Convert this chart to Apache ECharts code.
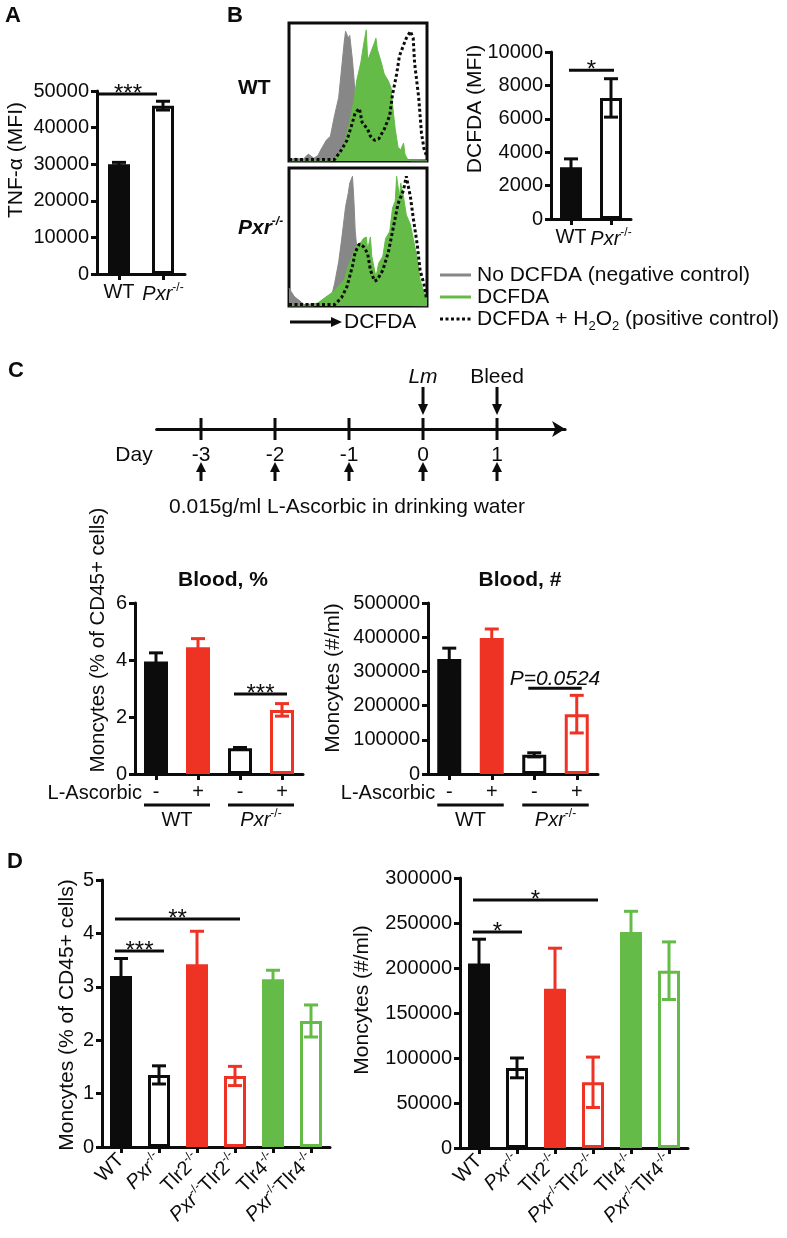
<!DOCTYPE html>
<html><head><meta charset="utf-8">
<script src="https://cdn.jsdelivr.net/npm/echarts@6/dist/echarts.min.js"></script>
<style>html,body{margin:0;padding:0;background:#fff}#c{width:787px;height:1238px}</style>
</head><body><div id="c"></div>
<script>
// ---------------- DATA ----------------
// Panel A
const aCategories = ['WT', 'Pxr'];
const aLabels = ['WT', '{i|Pxr}{s|-/-}'];
const aMeans = [30000, 46000];
const aErrors = [500, 1200];
const aAxis = [0, 50000, 10000];
const aSig = [[0, 1, 49200]];
const aSigText = ['***'];

// Panel B bar
const bCategories = ['WT', 'Pxr'];
const bLabels = ['WT', '{i|Pxr}{s|-/-}'];
const bMeans = [3100, 7250];
const bErrors = [500, 1150];
const bAxis = [0, 10000, 2000];
const bSig = [[0, 1, 8900]];
const bSigText = ['*'];

// Panel B histograms: [fluorescence (% of range), count (% of max)]
const histWtNeg = [[0,1],[5,2],[10,1],[14,5],[18,2],[21,4],[23,8],[27,15],[30,18],[33,33],[36,46],[38,66],[40,86],[41,94],[43,89],[44,91],[46,73],[47,61],[48,46],[51,30],[53,15],[56,5],[60,1],[100,0]];
const histWtDcf = [[0,0],[30,0],[33,2],[37,5],[40,12],[44,28],[47,43],[49,58],[52,71],[54,84],[56,95],[57,73],[59,78],[62,86],[63,89],[64,81],[67,71],[69,63],[72,58],[74,53],[75,41],[77,23],[79,10],[81,8],[83,13],[84,5],[86,1],[88,0],[100,0]];
const histWtPos = [[0,1],[20,1],[33,1],[38,8],[42,15],[46,28],[48,35],[51,38],[53,28],[54,28],[57,23],[59,18],[62,15],[65,16],[69,23],[73,33],[75,48],[78,63],[80,76],[83,84],[85,89],[88,94],[90,89],[91,71],[94,46],[96,20],[98,8],[100,3]];
const histKoNeg = [[0,13],[1.2,11],[3.7,7],[6.2,5],[11,1],[21,2],[26,5],[31,8],[33,16],[36,32],[38,47],[41,72],[43,82],[44,89],[46,94],[47,77],[48,54],[49,44],[51,30],[53,15],[56,5],[60,1],[100,0]];
const histKoDcf = [[0,0],[18,0],[26,6],[33,11],[40,19],[43,29],[47,39],[49,44],[52,46],[54,49],[56,50],[57,41],[59,50],[60,36],[63,21],[65,31],[68,36],[70,49],[73,54],[75,71],[77,76],[78,94],[80,79],[81,89],[83,79],[85,66],[88,59],[90,49],[93,34],[95,19],[98,9],[100,5]];
const histKoPos = [[0,1],[20,1],[33,1],[38,6],[42,14],[46,29],[48,39],[51,45],[54,43],[57,38],[59,26],[62,18],[64,19],[68,26],[72,39],[75,54],[79,74],[83,84],[85,94],[88,79],[90,64],[93,44],[95,26],[98,15],[99.5,6]];

// Panel C timeline
const timelineDays = [-3, -2, -1, 0, 1];
const timelineDayLabels = ['-3', '-2', '-1', '0', '1'];
const eventDays = [0, 1];
const eventLabels = ['Lm', 'Bleed'];

// Panel C bars
const cCategories = ['WT -', 'WT +', 'Pxr -', 'Pxr +'];
const cLabels = ['-', '+', '-', '+'];
const cGroups = [[0, 1], [2, 3]];
const cGroupLabels = ['WT', '{i|Pxr}{s|-/-}'];
const cPctMeans = [3.95, 4.45, 0.9, 2.25];
const cPctErrors = [0.3, 0.3, 0.03, 0.22];
const cPctAxis = [0, 6, 2];
const cPctSig = [[2, 3, 2.81]];
const cPctSigText = ['***'];
const cNumMeans = [336000, 398000, 56000, 175000];
const cNumErrors = [32000, 26000, 6000, 55000];
const cNumAxis = [0, 500000, 100000];
const cNumSig = [[2, 3, 251000]];
const cNumSigText = ['P=0.0524'];

// Panel D bars
const dCategories = ['WT', 'Pxr', 'Tlr2', 'PxrTlr2', 'Tlr4', 'PxrTlr4'];
const dLabels = ['WT', '{i|Pxr}{s|-/-}', '{n|Tlr2}{s|-/-}', '{i|Pxr}{s|-/-}{n|Tlr2}{s|-/-}', '{n|Tlr4}{s|-/-}', '{i|Pxr}{s|-/-}{n|Tlr4}{s|-/-}'];
const dPctMeans = [3.2, 1.35, 3.42, 1.33, 3.14, 2.36];
const dPctErrors = [0.33, 0.17, 0.62, 0.18, 0.17, 0.3];
const dPctAxis = [0, 5, 1];
const dPctSig = [[0, 3, 4.27], [0, 1, 3.67]];
const dPctSigText = ['**', '***'];
const dNumMeans = [205000, 89000, 177000, 73000, 240000, 197000];
const dNumErrors = [27000, 11000, 45000, 28000, 23000, 32000];
const dNumAxis = [0, 300000, 50000];
const dNumSig = [[0, 3, 275600], [0, 1, 240000]];
const dNumSigText = ['*', '*'];

// ---------------- STYLE ----------------
const FONT = '"Liberation Sans", Arial, Helvetica, sans-serif';
const BLACK = '#0c0c0c', RED = '#ee3325', GREEN = '#64bb47', GRAY = '#878787';
const abColors = [BLACK, BLACK], abOpen = [false, true];
const cColors = [BLACK, RED, BLACK, RED], cOpen = [false, false, true, true];
const dColors = [BLACK, BLACK, RED, RED, GREEN, GREEN], dOpen = [false, true, false, true, false, true];

const RICH = {
  i: {fontStyle: 'italic', fontSize: 20, fontFamily: FONT, color: BLACK},
  n: {fontSize: 20, fontFamily: FONT, color: BLACK},
  s: {fontSize: 12, fontFamily: FONT, color: BLACK, verticalAlign: 'top', lineHeight: 24},
  sub: {fontSize: 13, fontFamily: FONT, color: BLACK, verticalAlign: 'bottom', lineHeight: 26}
};

const grids = [
  {left: 97, top: 91, width: 88, height: 183},          // 0 A
  {left: 551, top: 52, width: 80, height: 167},         // 1 B bar
  {left: 289, top: 23, width: 138, height: 138, show: true, borderColor: BLACK, borderWidth: 3}, // 2 hist WT
  {left: 289, top: 168, width: 138, height: 138, show: true, borderColor: BLACK, borderWidth: 3}, // 3 hist KO
  {left: 156.6, top: 370, width: 408.5, height: 59},    // 4 timeline
  {left: 135, top: 603, width: 168, height: 171},       // 5 C %
  {left: 428, top: 603, width: 170, height: 171},       // 6 C #
  {left: 102, top: 880, width: 228, height: 267},       // 7 D %
  {left: 460, top: 878, width: 228, height: 270}        // 8 D #
];

const xAxes = [], yAxes = [], series = [];
const axisLine = {show: true, lineStyle: {color: BLACK, width: 3}};
const axisTick = {show: true, length: 6, lineStyle: {color: BLACK, width: 3}};

function barChart(g, cats, labels, means, errs, colors, open, axis, sig, sigText, opts) {
  const sigOff = opts.sigOff || [-6, 5];
  xAxes.push({type: 'category', gridIndex: g, data: cats,
    axisLine: axisLine, axisTick: Object.assign({alignWithLabel: true}, axisTick),
    axisLabel: {interval: 0, color: BLACK, fontSize: 20, fontFamily: FONT, margin: opts.xMargin || 8,
      rotate: opts.rotate || 0, formatter: (v, i) => labels[i], rich: RICH},
    splitLine: {show: false}});
  yAxes.push({type: 'value', gridIndex: g, min: axis[0], max: axis[1], interval: axis[2],
    axisLine: axisLine, axisTick: axisTick, splitLine: {show: false},
    axisLabel: {color: BLACK, fontSize: 20, fontFamily: FONT, margin: 8, formatter: v => String(v)}});
  series.push({type: 'bar', xAxisIndex: g, yAxisIndex: g, barWidth: opts.bw, silent: true, z: 2,
    data: means.map((m, i) => ({value: m, itemStyle: open[i]
      ? {color: '#fff', borderColor: colors[i], borderWidth: 3}
      : {color: colors[i]}}))});
  series.push({type: 'custom', xAxisIndex: g, yAxisIndex: g, z: 5, silent: true,
    data: means.map((m, i) => [i, m - errs[i], m + errs[i]]),
    renderItem(params, api) {
      const i = api.value(0);
      const hi = api.coord([i, api.value(2)]), lo = api.coord([i, api.value(1)]);
      const st = {stroke: colors[params.dataIndex], lineWidth: 3};
      const w = 7;
      return {type: 'group', children: [
        {type: 'line', shape: {x1: hi[0], y1: hi[1], x2: lo[0], y2: lo[1]}, style: st},
        {type: 'line', shape: {x1: hi[0] - w, y1: hi[1], x2: hi[0] + w, y2: hi[1]}, style: st},
        {type: 'line', shape: {x1: lo[0] - w, y1: lo[1], x2: lo[0] + w, y2: lo[1]}, style: st}
      ]};
    }});
  series.push({type: 'custom', xAxisIndex: g, yAxisIndex: g, z: 6, silent: true,
    data: sig,
    renderItem(params, api) {
      const p1 = api.coord([api.value(0), api.value(2)]), p2 = api.coord([api.value(1), api.value(2)]);
      const t = sigText[params.dataIndex];
      const italic = t.indexOf('P=') === 0;
      const x1 = p1[0] + sigOff[0], x2 = p2[0] + sigOff[1];
      return {type: 'group', children: [
        {type: 'line', shape: {x1: x1, y1: p1[1], x2: x2, y2: p2[1]}, style: {stroke: BLACK, lineWidth: 3}},
        {type: 'text', style: {text: t, x: (x1 + x2) / 2, y: p1[1] + (italic ? 1 : 12),
          align: 'center', verticalAlign: 'bottom', fill: BLACK,
          font: (italic ? 'italic 21px ' : '24px ') + FONT}}
      ]};
    }});
}

function histChart(g, neg, dcf, pos) {
  xAxes.push({type: 'value', gridIndex: g, min: 0, max: 100, show: false});
  yAxes.push({type: 'value', gridIndex: g, min: 0, max: 100, show: false});
  series.push({type: 'line', xAxisIndex: g, yAxisIndex: g, data: neg, symbol: 'none', silent: true, z: 1,
    lineStyle: {width: 1, color: GRAY}, areaStyle: {color: GRAY, opacity: 1}});
  series.push({type: 'line', xAxisIndex: g, yAxisIndex: g, data: dcf, symbol: 'none', silent: true, z: 2,
    lineStyle: {width: 1, color: GREEN}, areaStyle: {color: GREEN, opacity: 1}});
  series.push({type: 'line', xAxisIndex: g, yAxisIndex: g, data: pos, symbol: 'none', silent: true, z: 3,
    lineStyle: {width: 3, color: BLACK, type: [3, 2.5]}});
}

// grid 0: A
barChart(0, aCategories, aLabels, aMeans, aErrors, abColors, abOpen, aAxis, aSig, aSigText, {bw: 22, sigOff: [-20, -6]});
// grid 1: B bar
barChart(1, bCategories, bLabels, bMeans, bErrors, abColors, abOpen, bAxis, bSig, bSigText, {bw: 22, sigOff: [-2, 3]});
// grid 2,3: histograms
histChart(2, histWtNeg, histWtDcf, histWtPos);
histChart(3, histKoNeg, histKoDcf, histKoPos);
// grid 4: timeline
xAxes.push({type: 'value', gridIndex: 4, min: -3.6, max: 1.92,
  axisLine: {show: true, symbol: ['none', 'arrow'], symbolSize: [12, 13], lineStyle: {color: BLACK, width: 3}},
  axisTick: {show: false}, axisLabel: {show: false}, splitLine: {show: false}});
yAxes.push({type: 'value', gridIndex: 4, min: 0, max: 1, show: false});
const tlFont = '21px ' + FONT;
series.push({type: 'custom', xAxisIndex: 4, yAxisIndex: 4, silent: true, z: 5,
  data: timelineDays.map(d => [d, 0]),
  renderItem(params, api) {
    const p = api.coord([api.value(0), 0]);
    const x = p[0], y = p[1];
    const st = {stroke: BLACK, lineWidth: 3};
    return {type: 'group', children: [
      {type: 'line', shape: {x1: x, y1: y - 11, x2: x, y2: y + 11}, style: st},
      {type: 'text', style: {text: timelineDayLabels[params.dataIndex], x: x, y: y + 26, align: 'center', verticalAlign: 'middle', fill: BLACK, font: tlFont}},
      {type: 'line', shape: {x1: x, y1: y + 40, x2: x, y2: y + 52}, style: st},
      {type: 'polygon', shape: {points: [[x, y + 33], [x - 5, y + 43], [x + 5, y + 43]]}, style: {fill: BLACK}}
    ]};
  }});
series.push({type: 'custom', xAxisIndex: 4, yAxisIndex: 4, silent: true, z: 5,
  data: eventDays.map(d => [d, 0]),
  renderItem(params, api) {
    const p = api.coord([api.value(0), 0]);
    const x = p[0], y = p[1];
    const lab = eventLabels[params.dataIndex];
    return {type: 'group', children: [
      {type: 'line', shape: {x1: x, y1: y - 42, x2: x, y2: y - 24}, style: {stroke: BLACK, lineWidth: 3}},
      {type: 'polygon', shape: {points: [[x, y - 14], [x - 5, y - 25], [x + 5, y - 25]]}, style: {fill: BLACK}},
      {type: 'text', style: {text: lab, x: x, y: y - 52, align: 'center', verticalAlign: 'middle', fill: BLACK,
        font: (lab === 'Lm' ? 'italic ' : '') + tlFont}}
    ]};
  }});
// grid 5,6: C
barChart(5, cCategories, cLabels, cPctMeans, cPctErrors, cColors, cOpen, cPctAxis, cPctSig, cPctSigText, {bw: 24});
barChart(6, cCategories, cLabels, cNumMeans, cNumErrors, cColors, cOpen, cNumAxis, cNumSig, cNumSigText, {bw: 24});
function groupLabels(g) {
  series.push({type: 'custom', xAxisIndex: g, yAxisIndex: g, silent: true, z: 6,
    data: cGroups,
    renderItem(params, api) {
      const p1 = api.coord([api.value(0), 0]), p2 = api.coord([api.value(1), 0]);
      const y = p1[1];
      const ch = [
        {type: 'line', shape: {x1: p1[0] - 12, y1: y + 31, x2: p2[0] + 12, y2: y + 31}, style: {stroke: BLACK, lineWidth: 3}},
        {type: 'text', style: {text: cGroupLabels[params.dataIndex], rich: RICH, x: (p1[0] + p2[0]) / 2, y: y + 46,
          align: 'center', verticalAlign: 'middle', fill: BLACK, font: '20px ' + FONT}}
      ];
      if (params.dataIndex === 0) {
        ch.push({type: 'text', style: {text: 'L-Ascorbic', x: p1[0] - 14, y: y + 19, align: 'right', verticalAlign: 'middle', fill: BLACK, font: '20px ' + FONT}});
      }
      return {type: 'group', children: ch};
    }});
}
groupLabels(5); groupLabels(6);
// grid 7,8: D
barChart(7, dCategories, dLabels, dPctMeans, dPctErrors, dColors, dOpen, dPctAxis, dPctSig, dPctSigText, {bw: 22, rotate: 45, xMargin: 10});
barChart(8, dCategories, dLabels, dNumMeans, dNumErrors, dColors, dOpen, dNumAxis, dNumSig, dNumSigText, {bw: 22, rotate: 45, xMargin: 10});

// ---------------- TEXT / ANNOTATIONS ----------------
function txt(text, x, y, opt) {
  opt = opt || {};
  return {type: 'text', x: x, y: y, rotation: opt.rot || 0, silent: true,
    style: {text: text, rich: RICH, fill: BLACK, align: opt.align || 'left', verticalAlign: opt.va || 'middle',
      font: (opt.style || '') + ' ' + (opt.weight || 'normal') + ' ' + (opt.size || 21) + 'px ' + FONT}};
}
const V = Math.PI / 2;
const graphics = [
  txt('A', 5, 16, {weight: 'bold', size: 22}),
  txt('B', 227, 16, {weight: 'bold', size: 22}),
  txt('C', 8, 371, {weight: 'bold', size: 22}),
  txt('D', 7, 862, {weight: 'bold', size: 22}),
  txt('TNF-α (MFI)', 16, 160, {rot: V, align: 'center'}),
  txt('DCFDA (MFI)', 475, 109, {rot: V, align: 'center'}),
  txt('WT', 238, 88, {weight: 'bold'}),
  {type: 'text', x: 238, y: 228, silent: true, style: {text: '{bi|Pxr}{bs|-/-}', fill: BLACK, verticalAlign: 'middle',
    rich: {bi: {fontStyle: 'italic', fontWeight: 'bold', fontSize: 21, fontFamily: FONT}, bs: {fontStyle: 'italic', fontWeight: 'bold', fontSize: 12, fontFamily: FONT, verticalAlign: 'top', lineHeight: 24}}}},
  {type: 'line', shape: {x1: 290, y1: 322, x2: 333, y2: 322}, style: {stroke: BLACK, lineWidth: 3}},
  {type: 'polygon', shape: {points: [[342, 322], [331, 317], [331, 327]]}, style: {fill: BLACK}},
  txt('DCFDA', 344, 322),
  {type: 'line', shape: {x1: 440, y1: 275, x2: 471, y2: 275}, style: {stroke: GRAY, lineWidth: 3}},
  {type: 'line', shape: {x1: 440, y1: 297, x2: 471, y2: 297}, style: {stroke: GREEN, lineWidth: 3}},
  {type: 'line', shape: {x1: 440, y1: 319, x2: 471, y2: 319}, style: {stroke: BLACK, lineWidth: 3, lineDash: [3, 2.5]}},
  txt('No DCFDA (negative control)', 477, 275),
  txt('DCFDA', 477, 297),
  {type: 'text', x: 477, y: 319, silent: true, style: {text: '{t|DCFDA + H}{sub|2}{t|O}{sub|2}{t| (positive control)}', fill: BLACK, verticalAlign: 'middle',
    rich: {t: {fontSize: 21, fontFamily: FONT}, sub: {fontSize: 13, fontFamily: FONT, verticalAlign: 'bottom', lineHeight: 28}}}},
  txt('Day', 134, 455, {align: 'center'}),
  txt('0.015g/ml L-Ascorbic in drinking water', 347, 507, {align: 'center'}),
  txt('Blood, %', 223, 580, {align: 'center', weight: 'bold'}),
  txt('Blood, #', 520, 580, {align: 'center', weight: 'bold'}),
  txt('Moncytes (% of CD45+ cells)', 98, 640, {rot: V, align: 'center', size: 20.5}),
  txt('Moncytes (#/ml)', 333, 678, {rot: V, align: 'center'}),
  txt('Moncytes (% of CD45+ cells)', 67, 1015, {rot: V, align: 'center'}),
  txt('Moncytes (#/ml)', 362, 1000, {rot: V, align: 'center'})
];

const chart = echarts.init(document.getElementById('c'), null, {renderer: 'canvas'});
chart.setOption({
  animation: false,
  backgroundColor: '#fff',
  grid: grids,
  xAxis: xAxes,
  yAxis: yAxes,
  series: series,
  graphic: graphics
});
</script></body></html>
